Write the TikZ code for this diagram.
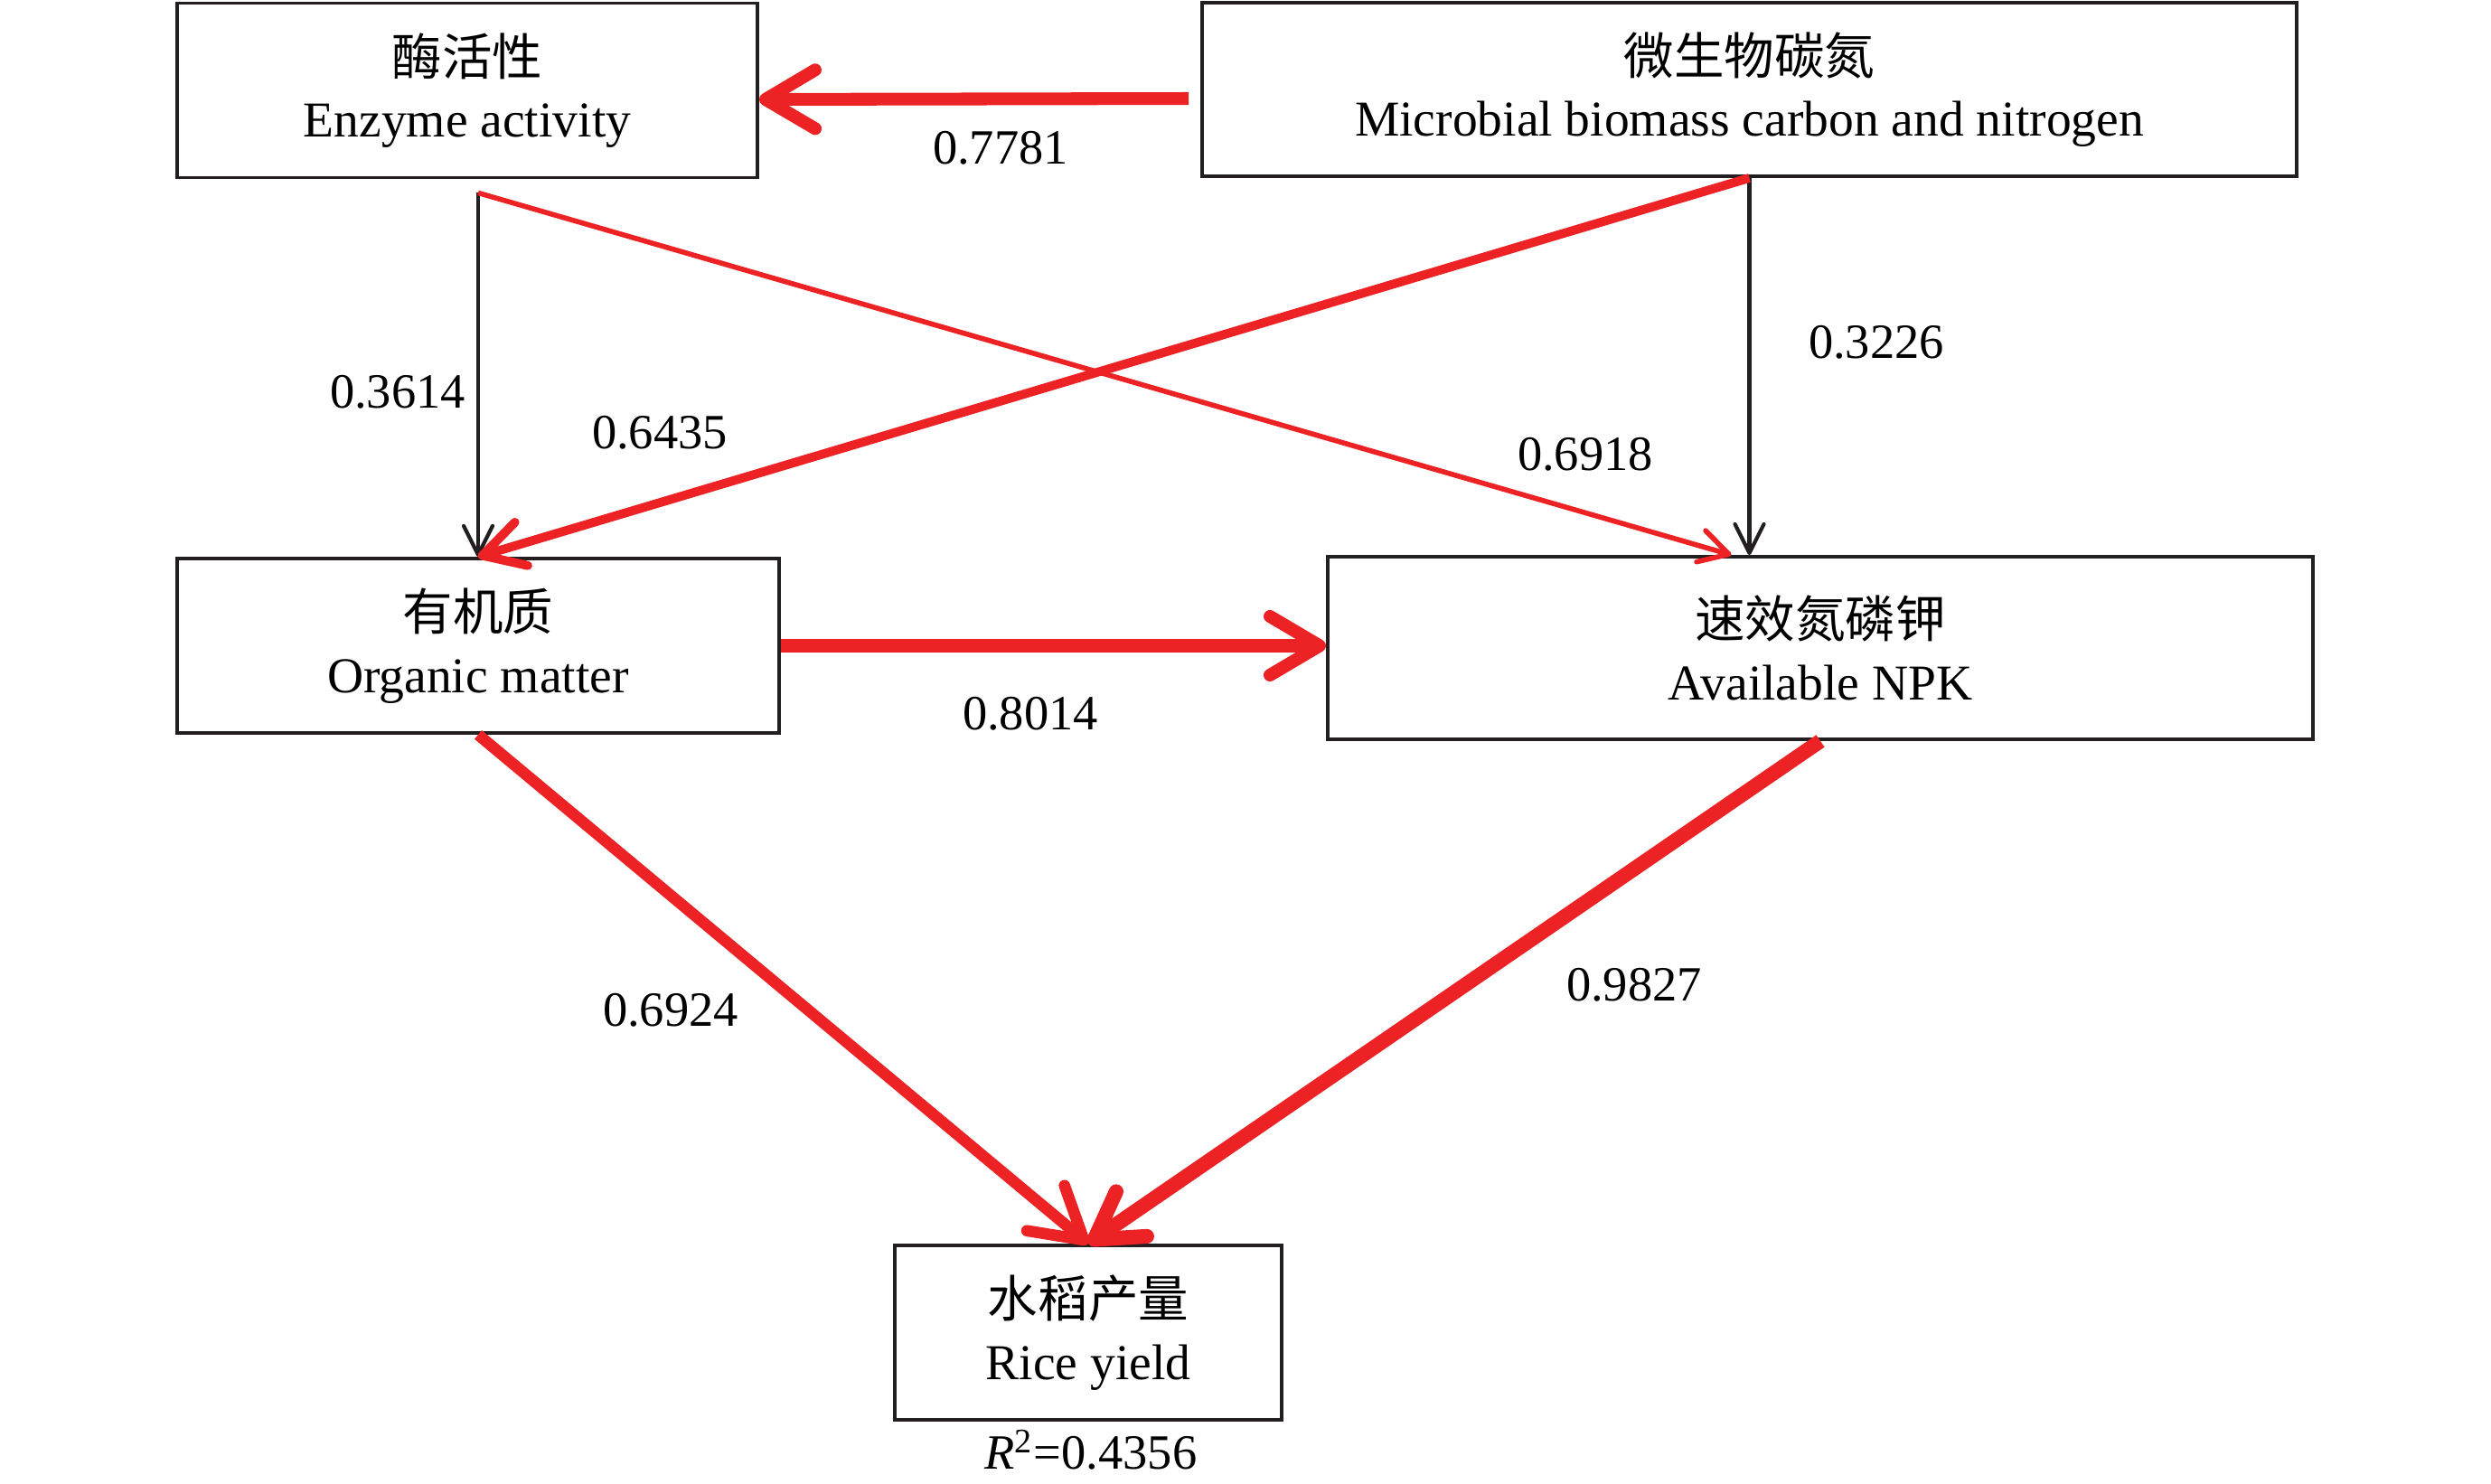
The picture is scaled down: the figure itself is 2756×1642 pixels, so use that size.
\documentclass[tikz,border=0pt]{standalone}
\usepackage{fontspec}
\setmainfont{Liberation Serif}
\newfontfamily\cjk{Noto Sans CJK SC}
\usepackage{tikz}
\usetikzlibrary{arrows.meta}
\usepackage{xcolor}
\definecolor{pathred}{RGB}{237,34,36}
\definecolor{inkblack}{RGB}{35,31,32}
\tikzset{
  factor/.style={draw=inkblack, line width=1.1pt, align=center, inner sep=0pt, font=\fontsize{15.8}{19.5}\selectfont},
  coef/.style={font=\fontsize{15.5}{18}\selectfont, inner sep=0pt},
  weak/.style={draw=inkblack, line width=1.2pt, -{Straight Barb[length=3.2mm,width=3.2mm,round]}},
  thinred/.style={draw=pathred, line width=1.6pt, -{Straight Barb[length=3.2mm,width=3.6mm,round]}},
  midred/.style={draw=pathred, line width=2.8pt, -{Straight Barb[length=4.5mm,width=5mm,round]}},
  boldred/.style={draw=pathred, line width=4pt, -{Straight Barb[length=5.5mm,width=6.5mm,round]}},
  heavyred/.style={draw=pathred, line width=4.6pt, -{Straight Barb[length=5mm,width=6mm,round]}}
}

\begin{document}
\begin{tikzpicture}[x=0.1mm,y=-0.1mm]
\useasboundingbox (0,0) rectangle (2756,1642);

% Factors
\node[factor, minimum width=64.2mm, minimum height=19.3mm] (enzyme) at (517,100) {{\cjk 酶活性}\\Enzyme activity};
\node[factor, minimum width=121.1mm, minimum height=19.2mm] (mbc) at (1935.5,99) {{\cjk 微生物碳氮}\\Microbial biomass carbon and nitrogen};
\node[factor, minimum width=66.6mm, minimum height=19.3mm] (om) at (529,714.5) {{\cjk 有机质}\\Organic matter};
\node[factor, minimum width=109mm, minimum height=20.2mm] (npk) at (2014,717) {{\cjk 速效氮磷钾}\\Available NPK};
\node[factor, minimum width=42.8mm, minimum height=19.3mm] (rice) at (1204,1474.5) {{\cjk 水稻产量}\\Rice yield};

\coordinate (fork0) at (enzyme.south -| om.north);
\coordinate (fork) at ([yshift=-1.5mm]fork0);
\coordinate (npktop) at (mbc.south |- npk.north);

% Paths
\draw[boldred, shorten <=1.3mm] ([yshift=-1mm]mbc.west) -- ([yshift=-1mm]enzyme.east);
\draw[weak] (fork) -- (om.north);
\draw[thinred] (fork) -- ([xshift=-2mm]npktop);
\draw[weak] (mbc.south) -- (npktop);
\draw[midred] (mbc.south) -- (om.north);
\draw[boldred] (om.east) -- (om.east -| npk.west);
\draw[boldred, line width=3.6pt] (om.south) -- (rice.north);
\draw[heavyred] (npk.south) -- (rice.north);

% Coefficients
\node[coef] (c7781) at (1107,164) {0.7781};
\node[coef] (c3614) at (440,434) {0.3614};
\node[coef] (c6435) at (730,479) {0.6435};
\node[coef] (c3226) at (2076,379) {0.3226};
\node[coef] (c6918) at (1754,503) {0.6918};
\node[coef] (c8014) at (1140,790) {0.8014};
\node[coef] (c6924) at (742,1118) {0.6924};
\node[coef] (c9827) at (1808,1090) {0.9827};
\node[coef] (r2) at (1207,1604) {\textit{R}\textsuperscript{2}=0.4356};
\end{tikzpicture}
\end{document}
